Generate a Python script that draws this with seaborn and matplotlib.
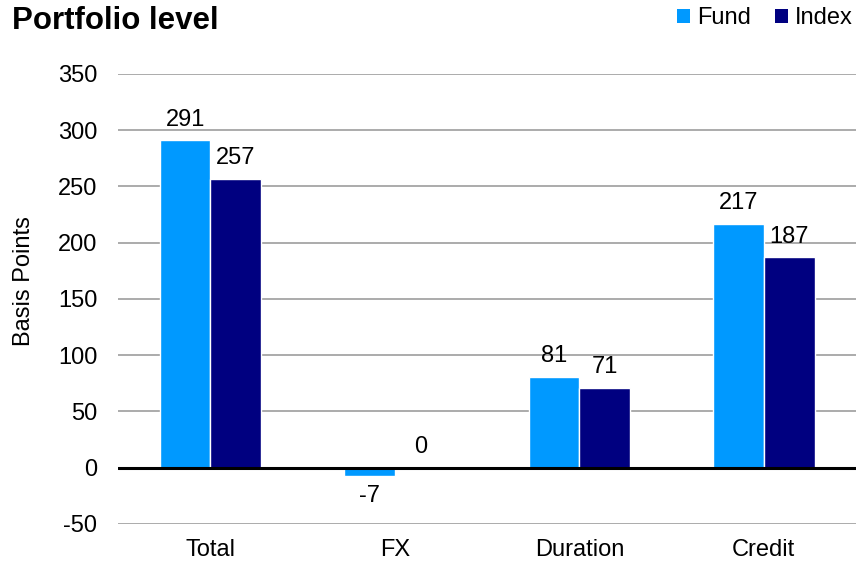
import pandas as pd
import seaborn as sns
import matplotlib.pyplot as plt
from matplotlib.patches import Patch

# Chart data
categories = ["Total", "FX", "Duration", "Credit"]
fund_values = [291, -7, 81, 217]
index_values = [257, 0, 71, 187]
series_names = ["Fund", "Index"]
yticks = [-50, 0, 50, 100, 150, 200, 250, 300, 350]

colors = {"Fund": "#0099FF", "Index": "#000080"}

df = pd.DataFrame({
    "Category": categories * 2,
    "Series": [series_names[0]] * len(categories) + [series_names[1]] * len(categories),
    "Value": fund_values + index_values,
})

sns.set_style("white")
plt.rcParams["font.family"] = ["Liberation Sans", "DejaVu Sans"]
plt.rcParams["axes.unicode_minus"] = False
plt.rcParams["text.color"] = "black"
plt.rcParams["axes.labelcolor"] = "black"

fig = plt.figure(figsize=(8.63, 5.64), dpi=100)
ax = fig.add_axes([0.137, 0.071, 0.855, 0.798])

sns.barplot(data=df, x="Category", y="Value", hue="Series", palette=colors,
            order=categories, hue_order=series_names, width=0.55, gap=0,
            saturation=1, edgecolor="white", linewidth=1, legend=False, ax=ax)

ax.set_ylim(-50, 350)
ax.set_yticks(yticks)
ax.yaxis.grid(True, color="#ABABAB", linewidth=1.4)
ax.set_axisbelow(True)
ax.axhline(0, color="black", linewidth=2.2, zorder=3)
for s in ax.spines.values():
    s.set_visible(False)
ax.tick_params(axis="both", length=0, labelsize=17, colors="black")
ax.tick_params(axis="y", pad=15)
ax.tick_params(axis="x", pad=11)
ax.set_xlabel("")
ax.set_ylabel("Basis Points", fontsize=17)
ax.yaxis.set_label_coords(-0.113, 0.54)

for cont in ax.containers:
    ax.bar_label(cont, fmt="%d", padding=7, fontsize=17, color="black")

fig.text(0.014, 0.99, "Portfolio level", fontsize=22.5, fontweight="bold",
         va="top", ha="left", color="black")

handles = [Patch(facecolor=colors[n], edgecolor="none") for n in series_names]
fig.legend(handles, series_names, loc="upper right", bbox_to_anchor=(1.013, 1.025),
           ncol=2, frameon=False, fontsize=17, handlelength=0.55, handleheight=0.55,
           handletextpad=0.3, columnspacing=1.0)

fig.savefig("out.png", dpi=100)
